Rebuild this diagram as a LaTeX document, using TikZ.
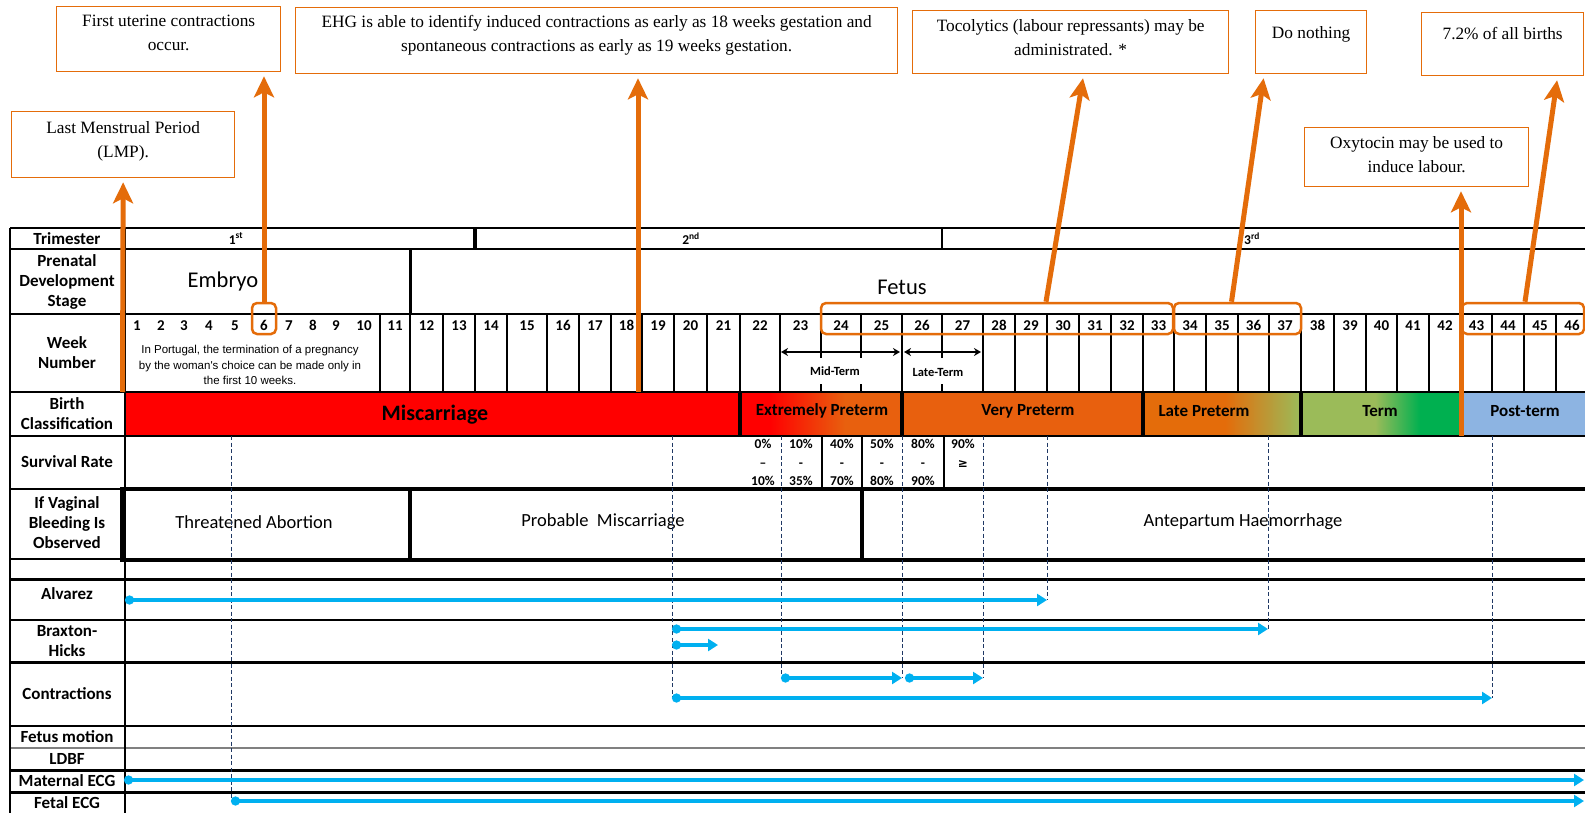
\documentclass[tikz,border=0pt]{standalone}
\usepackage{fontspec}
\setmainfont{Carlito}
\newfontfamily\calloutfont{Liberation Serif}
\newfontfamily\notefont{Liberation Sans}
\newfontfamily\symfont{DejaVu Sans}
\usepackage{tikz}
\usetikzlibrary{arrows.meta,positioning,calc}

\definecolor{callorange}{HTML}{E46C0A}
\definecolor{mred}{HTML}{FF0000}
\definecolor{vorange}{HTML}{E8600E}
\definecolor{lorange}{HTML}{E46C0A}
\definecolor{olive}{HTML}{9BBB59}
\definecolor{tgreen}{HTML}{00B050}
\definecolor{pblue}{HTML}{8DB4E2}
\definecolor{arrowblue}{HTML}{00B0F0}
\definecolor{guideblue}{HTML}{1F3864}

% width, height, first baseline, text
\newcommand{\callbox}[4]{\parbox[c][#2][t]{#1}{\centering\rule{0pt}{#3}#4}}

\begin{document}
\begin{tikzpicture}[x=1pt, y=-1pt, line width=1.2pt,
    rowlabel/.style={font=\bfseries\fontsize{17}{20}\selectfont, align=center, inner sep=0pt},
    wknum/.style={font=\bfseries\fontsize{15}{17}\selectfont, inner sep=0pt, anchor=base},
    trimtext/.style={font=\bfseries\fontsize{13.5}{15}\selectfont, inner sep=0pt},
    stagetext/.style={font=\fontsize{22.5}{26}\selectfont, inner sep=0pt},
    classtext/.style={font=\bfseries\fontsize{17}{20}\selectfont, inner sep=0pt},
    bleedtext/.style={font=\fontsize{18.5}{22}\selectfont, inner sep=0pt},
    ratetext/.style={font=\bfseries\fontsize{13.5}{18.5}\selectfont, align=center, inner sep=0pt, anchor=north},
    termtext/.style={font=\bfseries\fontsize{12.5}{14}\selectfont, inner sep=0pt},
    callout/.style={draw=callorange, line width=1.3pt, fill=white, inner sep=0pt,
                    font=\calloutfont\fontsize{17.3}{23.5}\selectfont},
    callarrow/.style={draw=callorange, line width=5pt, -{Stealth[length=21pt,width=20pt,inset=5pt]}, shorten >=4pt},
    wkbox/.style={draw=callorange, line width=2.5pt, rounded corners=5pt, inner sep=0pt, minimum height=31pt},
    bluearrow/.style={draw=arrowblue, line width=4pt, {Circle[length=9pt]}-{Triangle[length=10pt,width=12pt]}},
    termarrow/.style={line width=1.5pt, {Stealth[length=7pt,width=8pt]}-{Stealth[length=7pt,width=8pt]}},
    guide/.style={draw=guideblue, line width=0.8pt, dash pattern=on 4pt off 2.5pt},
    thickrule/.style={line width=3pt},
    divider/.style={line width=3.5pt}
  ]
\path[fill=white, use as bounding box] (0,0) rectangle (1585,813);

% --- birth classification colours ---
\fill[mred] (125,392) rectangle (770,436);
\shade[left color=mred, right color=vorange] (770,392) rectangle (845,436);
\fill[vorange] (845,392) rectangle (1143,436);
\fill[lorange] (1143,392) rectangle (1225,436);
\shade[left color=lorange, right color=olive] (1225,392) rectangle (1300,436);
\fill[olive] (1300,392) rectangle (1375,436);
\shade[left color=olive, right color=tgreen] (1375,392) rectangle (1420,436);
\fill[tgreen] (1420,392) rectangle (1462,436);
\fill[pblue] (1462,392) rectangle (1585,436);

% --- table rules ---
\foreach \yy in {228,249,392,436} \draw (10,\yy) -- (1585,\yy);
\draw[gray] (10,748) -- (1585,748);
\draw[line width=2pt] (10,314) -- (1585,314);
\foreach \yy in {620,726} \draw[line width=1.6pt] (10,\yy) -- (1585,\yy);
\foreach \yy in {579,662,770,792} \draw[thickrule] (10,\yy) -- (1585,\yy);
\draw (10,489) -- (122,489);
\draw (10,559) -- (122,559);
\draw (10,228) -- (10,813);
\draw (125,228) -- (125,813);

% trimester and stage dividers
\draw[line width=4pt] (475,228) -- (475,249);
\draw[line width=2pt] (942,228) -- (942,249);
\draw[line width=3pt] (410,249) -- (410,314);

% week separators
\foreach \xx in {380,410,443,475,507,547,579,611,642,674,707,740,780,902,983,1015,1047,
                 1079,1111,1143,1174,1206,1238,1269,1301,1334,1366,1397,1429,1461,1492,1524,1556}
  \draw (\xx,314) -- (\xx,392);
\foreach \xx in {821,861,942} {
  \draw (\xx,314) -- (\xx,358);
  \draw (\xx,384) -- (\xx,392);
}

% class dividers and survival cells
\foreach \xx in {740,902,1143,1301,1462} \draw[divider] (\xx,392) -- (\xx,436);
\foreach \xx in {822,862,944} \draw (\xx,436) -- (\xx,489);

% bleeding frame
\draw[line width=4pt] (122,489) rectangle (1595,560);
\draw[line width=4pt] (410,489) -- (410,560);
\draw[line width=4pt] (862,489) -- (862,560);

% --- row labels ---
\node[rowlabel] (lblTrim)  at (67,238.5) {Trimester};
\node[rowlabel] (lblStage) at (67,282)   {Prenatal\\Development\\Stage};
\node[rowlabel] (lblWeek)  at (67,353)   {Week\\Number};
\node[rowlabel] (lblBirth) at (67,414)   {Birth\\Classification};
\node[rowlabel] (lblSurv)  at (67,462)   {Survival Rate};
\node[rowlabel] (lblBleed) at (67,523)   {If Vaginal\\Bleeding Is\\Observed};
\node[rowlabel] (lblAlv)   at (67,594)   {Alvarez};
\node[rowlabel] (lblBrx)   at (67,641)   {Braxton-\\Hicks};
\node[rowlabel] (lblCon)   at (67,694)   {Contractions};
\node[rowlabel] (lblMot)   at (67,737)   {Fetus motion};
\node[rowlabel] (lblLdbf)  at (67,759)   {LDBF};
\node[rowlabel] (lblMecg)  at (67,781)   {Maternal ECG};
\node[rowlabel] (lblFecg)  at (67,802.5) {Fetal ECG};

% --- trimester / stage ---
\node[trimtext] (tri1) at (236,238.5)  {1\textsuperscript{st}};
\node[trimtext] (tri2) at (691,238.5)  {2\textsuperscript{nd}};
\node[trimtext] (tri3) at (1252,238.5) {3\textsuperscript{rd}};
\node[stagetext] (embryo) at (223,282) {Embryo};
\node[stagetext] (fetus)  at (902,287) {Fetus};

% --- week numbers ---
\foreach \wk/\xx in {1/137,2/161,3/184,4/209,5/235,6/264,7/289,8/313,9/336,10/364}
  \node[wknum] (wk\wk) at (\xx,330) {\wk};
\foreach \wk/\xl/\xr in {11/380/410,12/410/443,13/443/475,14/475/507,15/507/547,16/547/579,
    17/579/611,18/611/642,19/642/674,20/674/707,21/707/740,22/740/780,23/780/821,24/821/861,
    25/861/902,26/902/942,27/942/983,28/983/1015,29/1015/1047,30/1047/1079,31/1079/1111,
    32/1111/1143,33/1143/1174,34/1174/1206,35/1206/1238,36/1238/1269,37/1269/1301,
    38/1301/1334,39/1334/1366,40/1366/1397,41/1397/1429,42/1429/1461,43/1461/1492,
    44/1492/1524,45/1524/1556,46/1556/1588}
  \node[wknum] (wk\wk) at ({(\xl+\xr)/2},330) {\wk};

\node[font=\notefont\fontsize{11.5}{15.5}\selectfont, align=center, inner sep=0pt] (abortNote) at (250,365)
  {In Portugal, the termination of a pregnancy\\by the woman's choice can be made only in\\the first 10 weeks.};

% mid / late term
\coordinate (midL)  at (781,352);
\coordinate (midR)  at (900,352);
\coordinate (lateL) at (904,352);
\coordinate (lateR) at (981,352);
\draw[termarrow] (midL) -- (midR);
\draw[termarrow] (lateL) -- (lateR);
\node[termtext] (midTerm)  at (835,371) {Mid-Term};
\node[termtext] (lateTerm) at (938,372) {Late-Term};

% --- birth classification ---
\node[classtext, font=\bfseries\fontsize{22}{26}\selectfont] (miscarriage) at (435,415) {Miscarriage};
\node[classtext] (extPre)  at (822,411)  {Extremely Preterm};
\node[classtext] (veryPre) at (1028,411) {Very Preterm};
\node[classtext] (latePre) at (1204,411) {Late Preterm};
\node[classtext] (term)    at (1380,411) {Term};
\node[classtext] (postTerm) at (1525,411) {Post-term};

% --- survival rate ---
\node[ratetext] (rate1) at (763,439) {0\%\\–\\10\%};
\node[ratetext] (rate2) at (801,439) {10\%\\-\\35\%};
\node[ratetext] (rate3) at (842,439) {40\%\\-\\70\%};
\node[ratetext] (rate4) at (882,439) {50\%\\-\\80\%};
\node[ratetext] (rate5) at (923,439) {80\%\\-\\90\%};
\node[ratetext] (rate6) at (963,439) {90\%\\{\symfont\bfseries\fontsize{12}{18.5}\selectfont ≥}};

% --- vaginal bleeding ---
\node[bleedtext] (threatened) at (254,522)  {Threatened Abortion};
\node[bleedtext] (probable)   at (603,522)  {Probable\ \ Miscarriage};
\node[bleedtext] (antepartum) at (1243,522) {Antepartum Haemorrhage};

% --- signal spans ---
\coordinate (bcBase)    at (0,436);
\coordinate (alvS)      at (125,600);
\coordinate (alvE)      at (1047,600);
\coordinate (brxS)      at (672,629);
\coordinate (brxE)      at (1268,629);
\coordinate (brxShortS) at (672,645);
\coordinate (brxShortE) at (718,645);
\coordinate (conMidS)   at (781,678);
\coordinate (conMidE)   at (902,678);
\coordinate (conLateS)  at (905,678);
\coordinate (conLateE)  at (983,678);
\coordinate (conS)      at (672,698);
\coordinate (conE)      at (1492,698);
\coordinate (mecgS)     at (124,780);
\coordinate (mecgE)     at (1584,780);
\coordinate (fecgS)     at (231,801);
\coordinate (fecgE)     at (1584,801);

\foreach \pt in {fecgS,conS,conMidS,conMidE,conLateE,alvE,brxE,conE}
  \draw[guide] (\pt |- bcBase) -- (\pt);

\draw[bluearrow] (alvS) -- (alvE);
\draw[bluearrow] (brxS) -- (brxE);
\draw[bluearrow] (brxShortS) -- (brxShortE);
\draw[bluearrow] (conMidS) -- (conMidE);
\draw[bluearrow] (conLateS) -- (conLateE);
\draw[bluearrow] (conS) -- (conE);
\draw[bluearrow] (mecgS) -- (mecgE);
\draw[bluearrow] (fecgS) -- (fecgE);

% --- callouts ---
\node[wkbox, minimum width=24pt]  (w6box)  at (264,318.5)  {};
\node[wkbox, minimum width=352pt] (w24box) at (997,318.5)  {};
\node[wkbox, minimum width=127pt] (w34box) at (1237.5,318.5) {};
\node[wkbox, minimum width=122pt] (w43box) at (1523,318.5) {};

\node[callout, anchor=north west] (lmpBox)    at (11,111)   {\callbox{223pt}{66pt}{22pt}{Last Menstrual Period\\(LMP).}};
\node[callout, anchor=north west] (firstBox)  at (56,6)     {\callbox{224pt}{65pt}{20pt}{First uterine contractions\\occur.}};
\node[callout, anchor=north west] (ehgBox)    at (295,7)    {\callbox{602pt}{66pt}{20pt}{EHG is able to identify induced contractions as early as 18 weeks gestation and\\spontaneous contractions as early as 19 weeks gestation.}};
\node[callout, anchor=north west] (tocoBox)   at (912,10)   {\callbox{316pt}{63pt}{21pt}{Tocolytics (labour repressants) may be\\administrated. *}};
\node[callout, anchor=north west] (doBox)     at (1255,10)  {\callbox{111pt}{63pt}{28pt}{Do nothing}};
\node[callout, anchor=north west] (birthsBox) at (1421,12)  {\callbox{162pt}{63pt}{27pt}{7.2\% of all births}};
\node[callout, anchor=north west] (oxyBox)    at (1304,127) {\callbox{224pt}{59pt}{21pt}{Oxytocin may be used to\\induce labour.}};

\coordinate (lmpFoot) at (122.5,392);
\coordinate (ehgFoot) at (638,392);
\coordinate (oxyFoot) at (1461,436);
\draw[callarrow] (lmpFoot) -- (lmpBox.south);
\draw[callarrow] (w6box.north) -- (w6box.north |- firstBox.south);
\draw[callarrow] (ehgFoot) -- (ehgFoot |- ehgBox.south);
\draw[callarrow] ($(w24box.north)+(49,0)$) -- ($(tocoBox.south)+(13,0)$);
\draw[callarrow] ($(w34box.north)+(-6,0)$) -- ($(doBox.south)+(-47,0)$);
\draw[callarrow] ($(w43box.north)+(2,0)$) -- ($(birthsBox.south)+(55,0)$);
\draw[callarrow] (oxyFoot) -- (oxyFoot |- oxyBox.south);

\end{tikzpicture}
\end{document}
